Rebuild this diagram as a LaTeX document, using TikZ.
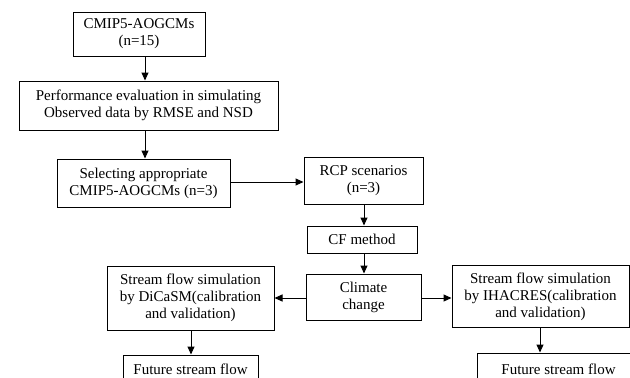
\documentclass[tikz,border=0pt]{standalone}
\usepackage{fontspec}
\setmainfont{Liberation Serif}
\usetikzlibrary{arrows.meta}

\begin{document}
\begin{tikzpicture}[x=1pt, y=-1pt,
            box/.style = {draw, line width=1pt, align=center, inner sep=0pt,
                          font=\fontsize{15}{17}\selectfont},
            arr/.style = {-{Triangle[length=8pt,width=7pt]}, line width=1pt}
            ]
            \useasboundingbox (0,0) rectangle (630,378);
            \clip (0,0) rectangle (630,378);

            % boxes
            \node[box, minimum width=132pt, minimum height=44pt] (cmip) at (139,34) {CMIP5-AOGCMs\\(n=15)};
            \node[box, minimum width=259pt, minimum height=49pt] (perf) at (148.5,105.5) {Performance evaluation in simulating\\Observed data by RMSE and NSD};
            \node[box, minimum width=173pt, minimum height=48pt] (select) at (143.5,183) {Selecting appropriate\\CMIP5-AOGCMs (n=3)};
            \node[box, minimum width=119pt, minimum height=47pt] (rcp) at (363.5,180.5) {RCP scenarios\\(n=3)};
            \node[box, minimum width=110pt, minimum height=27pt] (cf) at (362,239.5) {CF method};
            \node[box, minimum width=115pt, minimum height=46pt] (climate) at (363.5,297) {Climate\\change};
            \node[box, minimum width=167pt, minimum height=64pt] (dicasm) at (190.5,298) {Stream flow simulation\\by DiCaSM(calibration\\and validation)};
            \node[box, minimum width=177pt, minimum height=62pt] (ihacres) at (540.5,296.5) {Stream flow simulation\\by IHACRES(calibration\\and validation)};
            \node[box, minimum width=135pt, minimum height=28pt] (futleft) at (190.5,369) {Future stream flow};
            \node[box, minimum width=163pt, minimum height=32pt] (futright) at (558.5,369) {Future stream flow};

            % arrow columns
            \coordinate (colA) at (145,0);
            \coordinate (colB) at (364,0);
            \coordinate (colC) at (191,0);
            \coordinate (colD) at (540,0);
            \coordinate (rowA) at (0,182);
            \coordinate (rowB) at (0,298);

            % connectors
            \draw[arr] (cmip.south -| colA) -- (perf.north -| colA);
            \draw[arr] (perf.south -| colA) -- (select.north -| colA);
            \draw[arr] (select.east |- rowA) -- (rcp.west |- rowA);
            \draw[arr] (rcp.south -| colB) -- (cf.north -| colB);
            \draw[arr] (cf.south -| colB) -- (climate.north -| colB);
            \draw[arr] (climate.west |- rowB) -- (dicasm.east |- rowB);
            \draw[arr] (climate.east |- rowB) -- (ihacres.west |- rowB);
            \draw[arr] (dicasm.south -| colC) -- (futleft.north -| colC);
            \draw[arr] (ihacres.south -| colD) -- (futright.north -| colD);
        \end{tikzpicture}
\end{document}
